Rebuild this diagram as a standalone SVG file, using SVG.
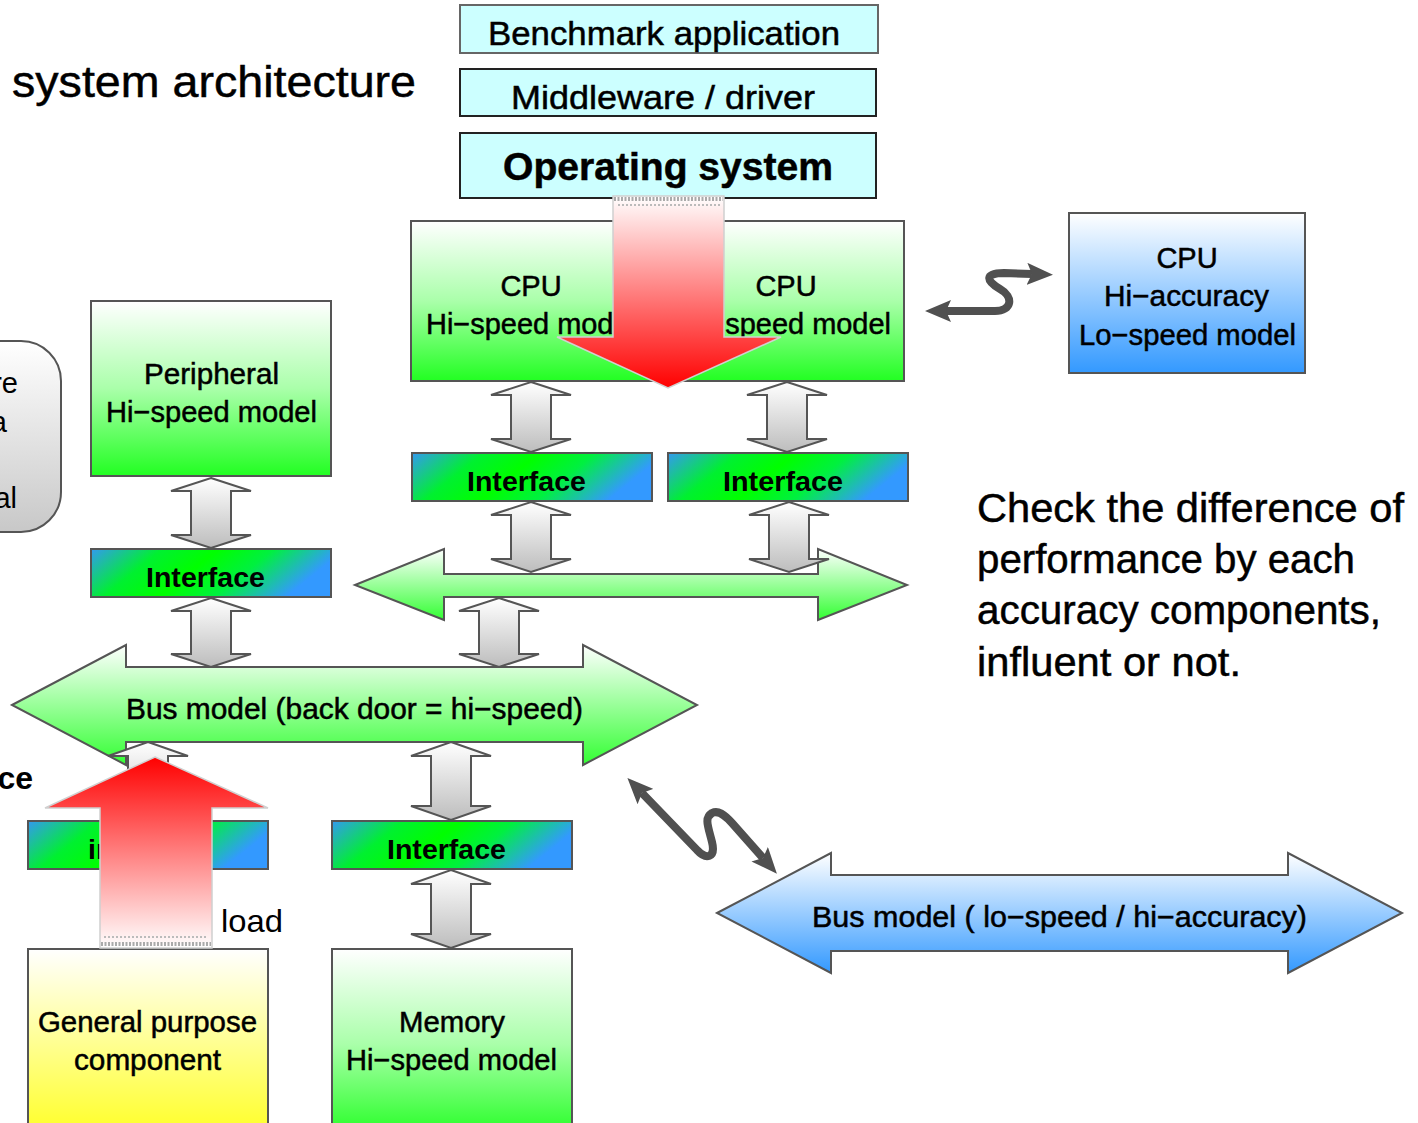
<svg xmlns="http://www.w3.org/2000/svg" width="1418" height="1123" viewBox="0 0 1418 1123">
<defs>
<linearGradient id="gGreen" x1="0" y1="0" x2="0" y2="1"><stop offset="0" stop-color="#ffffff"/><stop offset="0.5" stop-color="#aaffaa"/><stop offset="1" stop-color="#22ff22"/></linearGradient>
<linearGradient id="gBus" x1="0" y1="0" x2="0" y2="1"><stop offset="0" stop-color="#ffffff"/><stop offset="1" stop-color="#33ff33"/></linearGradient>
<linearGradient id="gBlue" x1="0" y1="0" x2="0" y2="1"><stop offset="0" stop-color="#ffffff"/><stop offset="1" stop-color="#3399ff"/></linearGradient>
<linearGradient id="gYellow" x1="0" y1="0" x2="0" y2="1"><stop offset="0" stop-color="#ffffff"/><stop offset="1" stop-color="#ffff22"/></linearGradient>
<linearGradient id="gGray" x1="0" y1="0" x2="0" y2="1"><stop offset="0" stop-color="#ffffff"/><stop offset="1" stop-color="#bdbdbd"/></linearGradient>
<linearGradient id="gRound" x1="0" y1="0" x2="0" y2="1"><stop offset="0" stop-color="#ffffff"/><stop offset="1" stop-color="#c8c8c8"/></linearGradient>
<linearGradient id="gIf" x1="0" y1="0" x2="1" y2="0.25"><stop offset="0" stop-color="#3399f0"/><stop offset="0.28" stop-color="#00f030"/><stop offset="0.5" stop-color="#00ff00"/><stop offset="0.72" stop-color="#00f040"/><stop offset="1" stop-color="#3399ff"/></linearGradient>
<linearGradient id="gRedDown" x1="0" y1="0" x2="0" y2="1"><stop offset="0" stop-color="#ffffff"/><stop offset="1" stop-color="#ff0000"/></linearGradient>
<linearGradient id="gRedUp" x1="0" y1="0" x2="0" y2="1"><stop offset="0" stop-color="#ff0000"/><stop offset="1" stop-color="#ffffff"/></linearGradient>
<marker id="ah" markerUnits="userSpaceOnUse" viewBox="0 0 26 22" markerWidth="26" markerHeight="22" refX="5" refY="11" orient="auto-start-reverse"><path d="M0,0 L26,11 L0,22 L5,11 Z" fill="#505050"/></marker>
<style>
text{font-family:"Liberation Sans",Arial,sans-serif;fill:#000;stroke:#000;stroke-width:0.5px;}
.thin{stroke:none;}
.box{stroke:#555;stroke-width:2;}
.top{fill:#ccffff;stroke:#222;stroke-width:2;}
.lbl{font-size:29px;}
.ifl{font-size:28px;font-weight:bold;stroke:none;}
.garrow{fill:url(#gGray);stroke:#555;stroke-width:2;}
.squig{fill:none;stroke:#505050;stroke-width:8;stroke-linejoin:round;marker-start:url(#ah);marker-end:url(#ah);}
.red{stroke:#d0d0d0;stroke-width:1.5;}
</style>
</defs>
<rect width="1418" height="1123" fill="#ffffff"/>

<text x="12" y="97" font-size="44" textLength="404" lengthAdjust="spacingAndGlyphs">system architecture</text>

<g id="benchmark"><rect class="top" x="460" y="5" width="418" height="48" style="stroke:#666"/><text x="488" y="45" font-size="34" textLength="352" lengthAdjust="spacingAndGlyphs">Benchmark application</text></g>
<g id="middleware"><rect class="top" x="460" y="69" width="416" height="47"/><text x="511" y="109" font-size="34" textLength="304" lengthAdjust="spacingAndGlyphs">Middleware / driver</text></g>
<g id="os"><rect class="top" x="460" y="133" width="416" height="65"/><text x="503" y="180" font-size="39" font-weight="bold" textLength="330" lengthAdjust="spacingAndGlyphs">Operating system</text></g>

<g id="cpu-hispeed"><rect class="box" x="411" y="221" width="493" height="160" fill="url(#gGreen)"/>
<text class="lbl" x="531" y="296" text-anchor="middle">CPU</text>
<text class="lbl" x="426" y="334" textLength="210" lengthAdjust="spacingAndGlyphs">Hi−speed model</text>
<text class="lbl" x="786" y="296" text-anchor="middle">CPU</text>
<text class="lbl" x="681" y="334" textLength="210" lengthAdjust="spacingAndGlyphs">Hi−speed model</text></g>

<g id="cpu-hiaccuracy"><rect class="box" x="1069" y="213" width="236" height="160" fill="url(#gBlue)"/>
<text class="lbl" x="1187" y="268" text-anchor="middle">CPU</text>
<text class="lbl" x="1104" y="306" textLength="165" lengthAdjust="spacingAndGlyphs">Hi−accuracy</text>
<text class="lbl" x="1079" y="345" textLength="217" lengthAdjust="spacingAndGlyphs">Lo−speed model</text></g>

<g id="peripheral"><rect class="box" x="91" y="301" width="240" height="175" fill="url(#gGreen)"/>
<text class="lbl" x="144" y="384" textLength="135" lengthAdjust="spacingAndGlyphs">Peripheral</text>
<text class="lbl" x="106" y="422" textLength="211" lengthAdjust="spacingAndGlyphs">Hi−speed model</text></g>

<g id="left-box"><rect class="box" x="-60" y="341" width="121" height="191" rx="40" fill="url(#gRound)"/>
<text class="lbl thin" x="18" y="393" text-anchor="end">re</text>
<text class="lbl thin" x="7" y="432" text-anchor="end">a</text>
<text class="lbl thin" x="17" y="508" text-anchor="end">al</text></g>

<g id="if-cpu1"><rect class="box" x="412" y="453" width="240" height="48" fill="url(#gIf)"/><text class="ifl" x="467" y="491" textLength="119" lengthAdjust="spacingAndGlyphs">Interface</text></g>
<g id="if-cpu2"><rect class="box" x="668" y="453" width="240" height="48" fill="url(#gIf)"/><text class="ifl" x="723" y="491" textLength="120" lengthAdjust="spacingAndGlyphs">Interface</text></g>
<g id="if-peripheral"><rect class="box" x="91" y="549" width="240" height="48" fill="url(#gIf)"/><text class="ifl" x="146" y="587" textLength="119" lengthAdjust="spacingAndGlyphs">Interface</text></g>
<g id="if-general"><rect class="box" x="28" y="821" width="240" height="48" fill="url(#gIf)"/><text class="ifl" x="88" y="859" textLength="119" lengthAdjust="spacingAndGlyphs">interface</text></g>
<g id="if-memory"><rect class="box" x="332" y="821" width="240" height="48" fill="url(#gIf)"/><text class="ifl" x="387" y="859" textLength="119" lengthAdjust="spacingAndGlyphs">Interface</text></g>

<g id="cpu-bus"><path class="box" fill="url(#gBus)" d="M355,585 L444,549 L444,574 L818,574 L818,549 L907,585 L818,620 L818,597 L444,597 L444,620 Z"/></g>
<g id="bus-hispeed"><path class="box" fill="url(#gBus)" d="M12,705 L126,645 L126,667 L583,667 L583,645 L697,705 L583,765 L583,742 L126,742 L126,765 Z"/>
<text class="lbl" x="126" y="719" font-size="28" textLength="457" lengthAdjust="spacingAndGlyphs">Bus model (back door = hi−speed)</text></g>
<g id="bus-loSpeed"><path class="box" fill="url(#gBlue)" d="M717,913 L831,853 L831,875 L1288,875 L1288,853 L1402,913 L1288,973 L1288,951 L831,951 L831,973 Z"/>
<text class="lbl" x="812" y="927" font-size="28" textLength="495" lengthAdjust="spacingAndGlyphs">Bus model ( lo−speed / hi−accuracy)</text></g>

<g id="general"><rect class="box" x="28" y="949" width="240" height="190" fill="url(#gYellow)"/>
<text class="lbl" x="38" y="1032" textLength="219" lengthAdjust="spacingAndGlyphs">General purpose</text>
<text class="lbl" x="74" y="1070" textLength="147" lengthAdjust="spacingAndGlyphs">component</text></g>
<g id="memory"><rect class="box" x="332" y="949" width="240" height="190" fill="url(#gGreen)"/>
<text class="lbl" x="399" y="1032" textLength="106" lengthAdjust="spacingAndGlyphs">Memory</text>
<text class="lbl" x="346" y="1070" textLength="211" lengthAdjust="spacingAndGlyphs">Hi−speed model</text></g>

<text x="33" y="789" font-size="32" font-weight="bold" text-anchor="end" class="thin">ce</text>
<text x="221" y="932" font-size="32" textLength="62" lengthAdjust="spacingAndGlyphs" class="thin">load</text>

<g id="note" font-size="40">
<text x="977" y="522" textLength="427" lengthAdjust="spacingAndGlyphs">Check the difference of</text>
<text x="977" y="573" textLength="378" lengthAdjust="spacingAndGlyphs">performance by each</text>
<text x="977" y="624" textLength="404" lengthAdjust="spacingAndGlyphs">accuracy components,</text>
<text x="977" y="676" textLength="264" lengthAdjust="spacingAndGlyphs">influent or not.</text>
</g>

<g id="connectors">
<path class="garrow" d="M531,382 L571,395 L551,395 L551,439 L571,439 L531,452 L491,439 L511,439 L511,395 L491,395 Z"/>
<path class="garrow" d="M787,382 L827,395 L807,395 L807,439 L827,439 L787,452 L747,439 L767,439 L767,395 L747,395 Z"/>
<path class="garrow" d="M531,502 L571,515 L551,515 L551,559 L571,559 L531,572 L491,559 L511,559 L511,515 L491,515 Z"/>
<path class="garrow" d="M789,502 L829,515 L809,515 L809,559 L829,559 L789,572 L749,559 L769,559 L769,515 L749,515 Z"/>
<path class="garrow" d="M211,478 L251,491 L231,491 L231,535 L251,535 L211,548 L171,535 L191,535 L191,491 L171,491 Z"/>
<path class="garrow" d="M211,598 L251,611 L231,611 L231,654 L251,654 L211,667 L171,654 L191,654 L191,611 L171,611 Z"/>
<path class="garrow" d="M499,598 L539,611 L519,611 L519,654 L539,654 L499,667 L459,654 L479,654 L479,611 L459,611 Z"/>
<path class="garrow" d="M451,742 L491,756 L471,756 L471,806 L491,806 L451,820 L411,806 L431,806 L431,756 L411,756 Z"/>
<path class="garrow" d="M451,870 L491,884 L471,884 L471,934 L491,934 L451,948 L411,934 L431,934 L431,884 L411,884 Z"/>
<path class="garrow" d="M148,742 L188,756 L168,756 L168,806 L188,806 L148,820 L108,806 L128,806 L128,756 L108,756 Z"/>
<path class="squig" d="M946,311 L995,311 C1012,311 1014,297 1000,289 C986,281 984,273 1004,273 L1032,274"/>
<path class="squig" d="M642,793 L697,850 C706,860 716,858 712,842 C708,826 704,818 712,813 C718,810 724,814 732,823 L763,858"/>
<path class="red" fill="url(#gRedDown)" d="M613,196 L724,196 L724,337 L781,337 L668,388 L557,337 L613,337 Z"/>
<line x1="614" y1="199" x2="723" y2="199" stroke="#aaa" stroke-width="4" stroke-dasharray="2 1.5"/>
<line x1="618" y1="205" x2="722" y2="205" stroke="#bbb" stroke-width="2" stroke-dasharray="2 2"/>
<path class="red" fill="url(#gRedUp)" d="M155,757 L268,808 L212,808 L212,948 L100,948 L100,808 L45,808 Z"/>
<line x1="104" y1="937" x2="208" y2="937" stroke="#bbb" stroke-width="2" stroke-dasharray="2 2"/>
<line x1="101" y1="944" x2="211" y2="944" stroke="#aaa" stroke-width="4" stroke-dasharray="2 1.5"/>
</g>
</svg>
